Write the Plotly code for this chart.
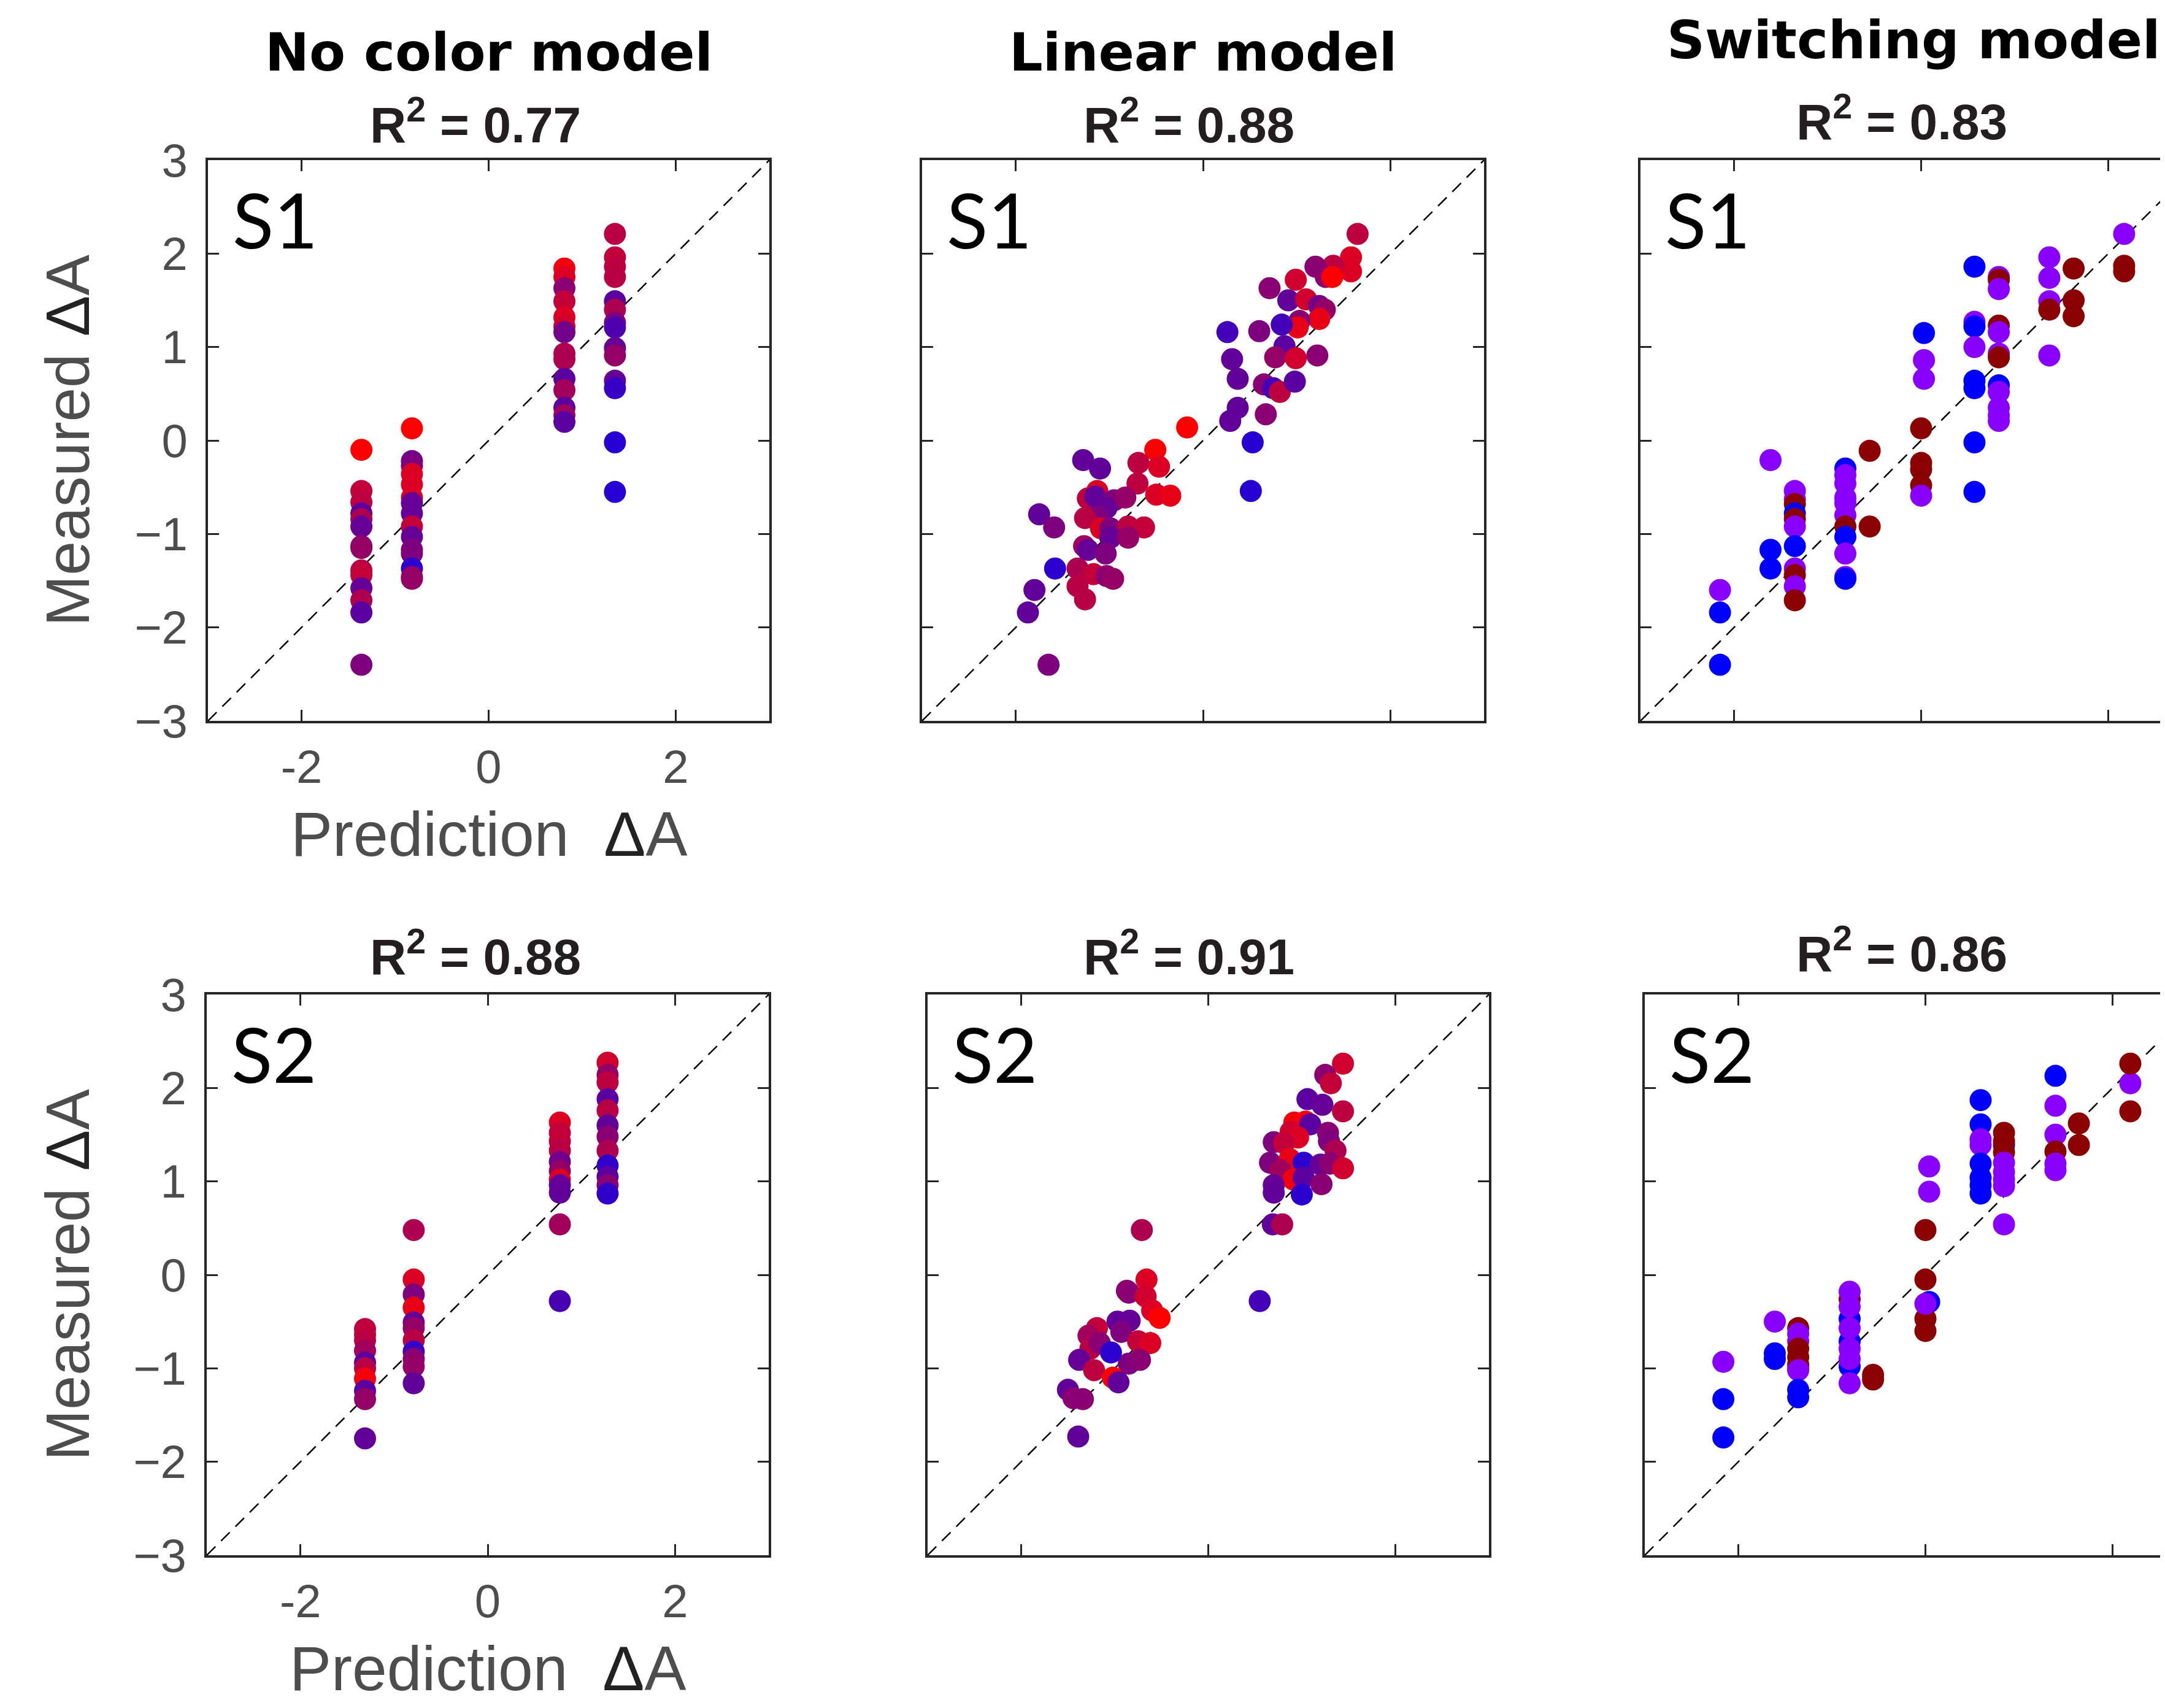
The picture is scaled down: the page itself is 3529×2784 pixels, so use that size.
import plotly.graph_objects as go

VIEW_W, VIEW_H = 3529, 2784
BODY_MARGIN = 8  # default page margin around the plot div
FIG_W, FIG_H = VIEW_W - BODY_MARGIN, VIEW_H - BODY_MARGIN
AX_MIN, AX_MAX = -3, 3
X_TICKS = [-2, 0, 2]
X_TICK_TEXT = ["-2", "0", "2"]
Y_TICKS = [-3, -2, -1, 0, 1, 2, 3]
Y_TICK_TEXT = ["\u22123", "\u22122", "\u22121", "0", "1", "2", "3"]

MODEL_TITLES = ["No color model", "Linear model", "Switching model"]
SUBJECTS = ["S1", "S2"]
R2_VALUES = [["0.77", "0.88", "0.83"], ["0.88", "0.91", "0.86"]]

# ---------------- S1, No color model ----------------
nocolor_s1_x = [-1.36, -1.36, -1.36, -1.36, -1.36, -1.36, -1.36, -1.36, -1.36, -1.36, -1.36, -1.36, -1.36, -1.36,
                -0.82, -0.82, -0.82, -0.82, -0.82, -0.82, -0.82, -0.82, -0.82, -0.82, -0.82, -0.82, -0.82, -0.82, -0.82,
                0.81, 0.81, 0.81, 0.81, 0.81, 0.81, 0.81, 0.81, 0.81, 0.81, 0.81, 0.81, 0.81, 0.81,
                1.35, 1.35, 1.35, 1.35, 1.35, 1.35, 1.35, 1.35, 1.35, 1.35, 1.35, 1.35, 1.35, 1.35]
nocolor_s1_y = [-0.10, -0.54, -0.66, -0.78, -0.84, -0.92, -1.13, -1.15, -1.39, -1.44, -1.58, -1.71, -1.84, -2.40,
                0.13, -0.22, -0.27, -0.36, -0.47, -0.61, -0.67, -0.78, -0.92, -1.03, -1.17, -1.21, -1.37, -1.46, -1.48,
                1.84, 1.75, 1.63, 1.49, 1.32, 1.22, 1.16, 0.93, 0.87, 0.66, 0.54, 0.35, 0.27, 0.20,
                2.21, 1.96, 1.86, 1.75, 1.49, 1.40, 1.26, 1.21, 0.99, 0.91, 0.64, 0.56, -0.02, -0.55]
nocolor_s1_c = [1.0, 0.75, 0.72, 0.3, 0.65, 0.35, 0.5, 0.55, 0.7, 0.75, 0.35, 0.65, 0.3, 0.45,
                1.0, 0.4, 0.45, 0.85, 0.85, 0.85, 0.35, 0.35, 0.75, 0.35, 0.45, 0.45, 0.1, 0.55, 0.55,
                0.95, 0.85, 0.5, 0.75, 0.85, 0.8, 0.4, 0.65, 0.65, 0.3, 0.6, 0.3, 0.6, 0.3,
                0.7, 0.75, 0.72, 0.7, 0.3, 0.65, 0.45, 0.25, 0.35, 0.55, 0.35, 0.15, 0.08, 0.08]

# ---------------- S1, Linear model ----------------
linear_s1_x = [1.65, 1.58, 1.58, 1.39, 1.20, 1.31, 1.38, 0.99, 0.71, 0.91, 1.10, 1.24, 1.30, 1.24, 1.03, 1.01,
               0.84, 0.60, 0.26, 0.87, 0.77, 0.99, 1.22, 0.31, 0.37, 0.65, 0.75, 0.82, 0.98, 0.37, 0.29, 0.67,
               -0.17, 0.53, 0.51, -0.51, -0.69, -0.47, -1.28, -1.10, -0.70, -0.50, -0.35, -1.13, -1.23, -1.15,
               -0.95, -0.83, -1.03, -1.12, -1.26, -1.09, -0.99, -0.80, -0.63, -1.75, -1.59, -1.27, -1.23, -0.99,
               -0.80, -1.04, -1.58, -1.34, -1.17, -1.03, -0.96, -1.34, -1.26, -1.80, -1.87, -1.65]
linear_s1_y = [2.21, 1.96, 1.81, 1.87, 1.86, 1.75, 1.75, 1.72, 1.63, 1.50, 1.51, 1.44, 1.40, 1.30, 1.28, 1.21,
               1.24, 1.17, 1.16, 1.01, 0.89, 0.88, 0.91, 0.87, 0.66, 0.60, 0.56, 0.52, 0.63, 0.35, 0.21, 0.28,
               0.14, -0.02, -0.54, -0.10, -0.24, -0.28, -0.21, -0.30, -0.46, -0.58, -0.59, -0.54, -0.62, -0.60,
               -0.64, -0.61, -0.72, -0.82, -0.83, -0.94, -0.94, -0.92, -0.93, -0.79, -0.93, -1.13, -1.17, -1.04,
               -1.04, -1.21, -1.37, -1.37, -1.43, -1.45, -1.48, -1.56, -1.70, -1.60, -1.84, -2.40]
linear_s1_c = [0.72, 0.85, 0.85, 0.72, 0.5, 0.5, 1.0, 0.8, 0.5, 0.33, 0.8, 0.4, 0.55, 0.9, 0.5, 0.9,
               0.2, 0.45, 0.2, 0.3, 0.55, 0.8, 0.5, 0.33, 0.33, 0.5, 0.2, 0.72, 0.3, 0.33, 0.33, 0.5,
               1.0, 0.08, 0.08, 1.0, 0.72, 0.85, 0.33, 0.33, 0.72, 0.85, 0.9, 0.85, 0.72, 0.33,
               0.45, 0.55, 0.35, 0.45, 0.7, 0.85, 0.45, 0.72, 0.75, 0.33, 0.45, 0.6, 0.35, 0.35,
               0.55, 0.45, 0.1, 0.65, 0.75, 0.5, 0.55, 0.7, 0.7, 0.33, 0.33, 0.45]

# ---------------- S1, Switching model ----------------
switch_s1_x = [-2.15, -2.15, -2.15, -1.61, -1.61, -1.61,
               -1.35, -1.35, -1.35, -1.35, -1.35, -1.35, -1.35, -1.35, -1.35, -1.35, -1.35,
               -0.81, -0.81, -0.81, -0.81, -0.81, -0.81, -0.81, -0.81, -0.81, -0.81, -0.81,
               -0.55, -0.55, 0.0, 0.0, 0.0, 0.0, 0.0, 0.03, 0.03, 0.03,
               0.57, 0.57, 0.57, 0.57, 0.57, 0.57, 0.57, 0.57,
               0.83, 0.83, 0.83, 0.83, 0.83, 0.83, 0.83, 0.83, 0.83, 0.83, 0.83, 0.83,
               1.37, 1.37, 1.37, 1.37, 1.37, 1.63, 1.63, 1.63, 2.17, 2.17, 2.17]
switch_s1_y = [-1.60, -1.84, -2.40, -0.21, -1.17, -1.37,
               -0.54, -0.63, -0.68, -0.78, -0.84, -0.92, -1.13, -1.37, -1.44, -1.56, -1.71,
               -0.30, -0.37, -0.46, -0.61, -0.67, -0.80, -0.92, -1.03, -1.21, -1.46, -1.48,
               -0.11, -0.92, 0.13, -0.24, -0.31, -0.48, -0.59, 1.15, 0.86, 0.66,
               1.86, 1.27, 1.22, 1.00, 0.64, 0.56, -0.02, -0.55,
               1.75, 1.72, 1.62, 1.23, 1.16, 0.93, 0.89, 0.59, 0.52, 0.35, 0.27, 0.21,
               1.96, 1.74, 1.49, 1.40, 0.91, 1.84, 1.50, 1.33, 2.21, 1.87, 1.81]
switch_s1_k = ["v", "b", "b", "v", "b", "b",
               "v", "v", "r", "b", "r", "v", "b", "v", "r", "v", "r",
               "b", "v", "v", "v", "v", "v", "r", "b", "v", "v", "b",
               "r", "r", "r", "r", "r", "r", "v", "b", "v", "v",
               "b", "v", "b", "v", "b", "b", "b", "b",
               "v", "r", "v", "r", "v", "v", "r", "b", "v", "v", "v", "v",
               "v", "v", "v", "r", "v", "r", "r", "r", "v", "r", "r"]

# ---------------- S2, No color model ----------------
nocolor_s2_x = [-1.31, -1.31, -1.31, -1.31, -1.31, -1.31, -1.31, -1.31, -1.31, -1.31,
                -0.79, -0.79, -0.79, -0.79, -0.79, -0.79, -0.79, -0.79, -0.79, -0.79, -0.79,
                0.77, 0.77, 0.77, 0.77, 0.77, 0.77, 0.77, 0.77, 0.77, 0.77, 0.77,
                1.28, 1.28, 1.28, 1.28, 1.28, 1.28, 1.28, 1.28, 1.28, 1.28, 1.28, 1.28]
nocolor_s2_y = [-0.58, -0.64, -0.70, -0.81, -0.94, -1.00, -1.11, -1.24, -1.33, -1.75,
                0.48, -0.05, -0.21, -0.35, -0.51, -0.57, -0.70, -0.82, -0.90, -0.98, -1.16,
                1.63, 1.52, 1.43, 1.33, 1.21, 1.11, 1.02, 0.96, 0.88, 0.54, -0.28,
                2.27, 2.14, 2.06, 1.88, 1.76, 1.60, 1.48, 1.33, 1.17, 1.05, 0.96, 0.87]
nocolor_s2_c = [0.72, 0.75, 0.7, 0.6, 0.3, 0.7, 0.95, 0.3, 0.55, 0.33,
                0.65, 0.85, 0.45, 0.9, 0.35, 0.55, 0.7, 0.15, 0.5, 0.55, 0.33,
                0.85, 0.75, 0.75, 0.7, 0.4, 0.55, 0.85, 0.35, 0.33, 0.6, 0.22,
                0.8, 0.55, 0.72, 0.3, 0.7, 0.33, 0.5, 0.65, 0.12, 0.3, 0.5, 0.12]

# ---------------- S2, Linear model ----------------
linear_s2_x = [1.44, 1.25, 1.31, 1.06, 1.22, 1.44, 0.92, 1.04, 1.09, 0.88, 0.96, 1.28, 1.29, 0.70, 0.81,
               1.36, 0.66, 0.87, 1.02, 1.20, 1.30, 1.44, 0.77, 0.91, 1.02, 1.21, 0.70, 0.70, 1.00, 0.69,
               0.79, -0.71, 0.55, -0.66, -0.85, -0.87, -0.67, -0.60, -0.52, -0.97, -0.84, -1.19, -1.28,
               -0.93, -0.75, -0.62, -1.26, -1.16, -1.38, -0.85, -0.73, -1.22, -1.02, -0.96, -1.50,
               -1.44, -1.34, -1.04, -1.39]
linear_s2_y = [2.26, 2.14, 2.05, 1.88, 1.82, 1.75, 1.63, 1.64, 1.61, 1.53, 1.47, 1.52, 1.43, 1.42, 1.41,
               1.33, 1.20, 1.24, 1.20, 1.18, 1.19, 1.14, 1.12, 1.02, 1.04, 0.97, 0.96, 0.88, 0.86, 0.54,
               0.54, 0.48, -0.28, -0.05, -0.19, -0.17, -0.23, -0.38, -0.46, -0.50, -0.49, -0.57, -0.65,
               -0.61, -0.71, -0.73, -0.79, -0.73, -0.91, -0.95, -0.91, -1.02, -1.10, -1.15, -1.23,
               -1.32, -1.33, -0.83, -1.73]
linear_s2_c = [0.8, 0.5, 0.75, 0.3, 0.35, 0.72, 0.95, 0.95, 0.3, 0.8, 0.85, 0.5, 0.45, 0.45, 0.75,
               0.65, 0.45, 0.9, 0.1, 0.35, 0.5, 0.8, 0.6, 0.95, 0.3, 0.5, 0.35, 0.33, 0.1, 0.33,
               0.65, 0.65, 0.2, 0.85, 0.45, 0.5, 0.8, 0.85, 1.0, 0.33, 0.35, 0.75, 0.6,
               0.45, 0.75, 0.85, 0.7, 0.5, 0.35, 0.45, 0.5, 0.72, 1.0, 0.33, 0.33,
               0.5, 0.5, 0.1, 0.33]

# ---------------- S2, Switching model ----------------
switch_s2_x = [-2.16, -2.16, -2.16, -1.61, -1.61, -1.61,
               -1.36, -1.36, -1.36, -1.36, -1.36, -1.36, -1.36, -1.36, -1.36, -1.36,
               -0.81, -0.81, -0.81, -0.81, -0.81, -0.81, -0.81, -0.81, -0.81, -0.81,
               -0.56, -0.56, 0.0, 0.0, 0.0, 0.0, 0.04, 0.04, 0.04, 0.0,
               0.59, 0.59, 0.59, 0.59, 0.59, 0.59, 0.59, 0.59,
               0.84, 0.84, 0.84, 0.84, 0.84, 0.84, 0.84, 0.84, 0.84,
               1.39, 1.39, 1.39, 1.39, 1.39, 1.39, 1.64, 1.64, 2.19, 2.19, 2.19]
switch_s2_y = [-0.93, -1.33, -1.74, -0.50, -0.84, -0.90,
               -0.57, -0.63, -0.71, -0.79, -0.88, -0.96, -1.00, -1.02, -1.23, -1.31,
               -0.26, -0.47, -0.71, -0.98, -0.18, -0.34, -0.57, -0.79, -0.90, -1.16,
               -1.07, -1.12, 0.48, -0.05, -0.47, -0.60, 1.16, 0.89, -0.29, -0.31,
               1.87, 1.61, 1.45, 1.39, 1.19, 1.04, 0.96, 0.87,
               1.39, 1.52, 1.43, 1.31, 1.20, 1.10, 1.02, 0.95, 0.54,
               2.13, 1.81, 1.50, 1.32, 1.19, 1.12, 1.62, 1.39, 2.05, 2.26, 1.75]
switch_s2_k = ["v", "b", "b", "v", "b", "b",
               "r", "v", "v", "r", "r", "r", "r", "v", "b", "b",
               "r", "b", "b", "b", "v", "v", "v", "v", "v", "v",
               "r", "r", "r", "r", "r", "r", "v", "v", "b", "v",
               "b", "b", "v", "v", "b", "b", "b", "b",
               "b", "r", "r", "r", "v", "v", "v", "v", "v",
               "b", "v", "v", "r", "v", "v", "r", "r", "v", "r", "r"]

# ---------------- styling ----------------
GRADIENT = [[0.0, "#1400e6"], [1.0, "#ff0000"]]
SWITCH_COLORS = {"b": "#0000ff", "v": "#8a00ff", "r": "#8b0000"}
MARKER_SIZE = 36
AXIS_COLOR = "#262626"
TICK_FONT = dict(family="Liberation Sans, Arial, sans-serif", size=76, color="#4d4d4d")

# panel pixel boxes in page coordinates
PANEL_X_PX = [[(339, 1254), (1503, 2419), (2674, 3589)],
              [(337, 1253), (1512, 2427), (2681, 3596)]]
PANEL_Y_PX = [(261, 1175), (1621, 2535)]


def fx(px):
    return (px - BODY_MARGIN) / FIG_W


def fy(py):
    return 1 - (py - BODY_MARGIN) / FIG_H


panel_data = [
    [("grad", nocolor_s1_x, nocolor_s1_y, nocolor_s1_c),
     ("grad", linear_s1_x, linear_s1_y, linear_s1_c),
     ("cat", switch_s1_x, switch_s1_y, switch_s1_k)],
    [("grad", nocolor_s2_x, nocolor_s2_y, nocolor_s2_c),
     ("grad", linear_s2_x, linear_s2_y, linear_s2_c),
     ("cat", switch_s2_x, switch_s2_y, switch_s2_k)],
]

fig = go.Figure()
layout = dict(
    template="none",
    width=FIG_W, height=FIG_H, autosize=False,
    margin=dict(l=0, r=0, t=0, b=0, pad=0, autoexpand=False),
    paper_bgcolor="white", plot_bgcolor="white",
    showlegend=False,
    annotations=[],
)

idx = 0
for r in range(2):
    top, bot = PANEL_Y_PX[r]
    for c in range(3):
        idx += 1
        left, right = PANEL_X_PX[r][c]
        ax_suffix = "" if idx == 1 else str(idx)
        xref, yref = "x" + ax_suffix, "y" + ax_suffix
        clipped_right = min(right, VIEW_W)
        xmax = AX_MIN + (clipped_right - left) / (right - left) * (AX_MAX - AX_MIN)
        truncated = right > VIEW_W

        kind, xs, ys, cs = panel_data[r][c]
        fig.add_trace(go.Scatter(
            x=[AX_MIN, AX_MAX], y=[AX_MIN, AX_MAX], mode="lines",
            line=dict(color="black", width=2.5, dash="20px,13px"),
            xaxis=xref, yaxis=yref, hoverinfo="skip"))
        if kind == "grad":
            marker = dict(size=MARKER_SIZE, color=cs, colorscale=GRADIENT, cmin=0, cmax=1,
                          line=dict(width=0), opacity=1, showscale=False)
        else:
            marker = dict(size=MARKER_SIZE, color=[SWITCH_COLORS[k] for k in cs],
                          line=dict(width=0), opacity=1)
        fig.add_trace(go.Scatter(x=xs, y=ys, mode="markers", marker=marker,
                                 xaxis=xref, yaxis=yref))

        show_labels = (c == 0)
        layout["xaxis" + ax_suffix] = dict(
            domain=[fx(left), min(fx(clipped_right), 1.0)],
            range=[AX_MIN, xmax], anchor=yref, automargin=False,
            showgrid=False, zeroline=False,
            showline=True, linecolor=AXIS_COLOR, linewidth=4,
            mirror="ticks",
            ticks="inside", ticklen=18, tickwidth=3, tickcolor=AXIS_COLOR,
            tickvals=X_TICKS, ticktext=X_TICK_TEXT,
            showticklabels=show_labels, tickfont=TICK_FONT,
            ticklabelstandoff=6,
        )
        layout["yaxis" + ax_suffix] = dict(
            domain=[fy(bot), fy(top)],
            range=[AX_MIN, AX_MAX], anchor=xref, automargin=False,
            showgrid=False, zeroline=False,
            showline=True, linecolor=AXIS_COLOR, linewidth=4,
            mirror=False if truncated else "ticks",
            ticks="inside", ticklen=18, tickwidth=3, tickcolor=AXIS_COLOR,
            tickvals=Y_TICKS, ticktext=Y_TICK_TEXT,
            showticklabels=show_labels, tickfont=TICK_FONT,
            ticklabelstandoff=14,
        )

        # subject label
        layout["annotations"].append(dict(
            x=-2.28, y=2.37, xref=xref, yref=yref, text=SUBJECTS[r],
            showarrow=False, xanchor="center", yanchor="middle",
            font=dict(family="Lato, Noto Sans, sans-serif", size=124, color="black")))

        # R^2 label
        r2_y_px = [197, 1553][r] - (5 if c == 2 else 0)
        r2_x_px = [775, 1938, 3100][c]
        layout["annotations"].append(dict(
            x=fx(r2_x_px), y=fy(r2_y_px), xref="paper", yref="paper",
            text="R<sup>2</sup> = " + R2_VALUES[r][c], showarrow=False,
            xanchor="center", yanchor="middle",
            font=dict(family="Liberation Sans, Arial, sans-serif", size=82, color="#231f20", weight="bold")))

        if c == 0:
            layout["annotations"].append(dict(
                x=fx((left + right) / 2), y=fy(bot + 185),
                xref="paper", yref="paper",
                text="Prediction\u00a0\u00a0<span style='color:#222222'>\u0394</span>A",
                showarrow=False, xanchor="center", yanchor="middle",
                font=dict(family="Liberation Sans, Arial, sans-serif", size=102, color="#4d4d4d")))
            layout["annotations"].append(dict(
                x=fx(110), y=fy((top + bot) / 2),
                xref="paper", yref="paper", textangle=-90,
                text="Measured\u00a0<span style='color:#222222'>\u0394</span>A",
                showarrow=False, xanchor="center", yanchor="middle",
                font=dict(family="Liberation Sans, Arial, sans-serif", size=100, color="#4d4d4d")))

# column titles
TITLE_X_PX = [797, 1961, 3119]
TITLE_Y_PX = [85, 85, 65]
for c in range(3):
    layout["annotations"].append(dict(
        x=fx(TITLE_X_PX[c]), y=fy(TITLE_Y_PX[c]), xref="paper", yref="paper",
        text=MODEL_TITLES[c], showarrow=False, xanchor="center", yanchor="middle",
        font=dict(family="DejaVu Sans, sans-serif", size=86, color="black", weight="bold")))

fig.update_layout(**layout)
fig.write_html("out.html")
